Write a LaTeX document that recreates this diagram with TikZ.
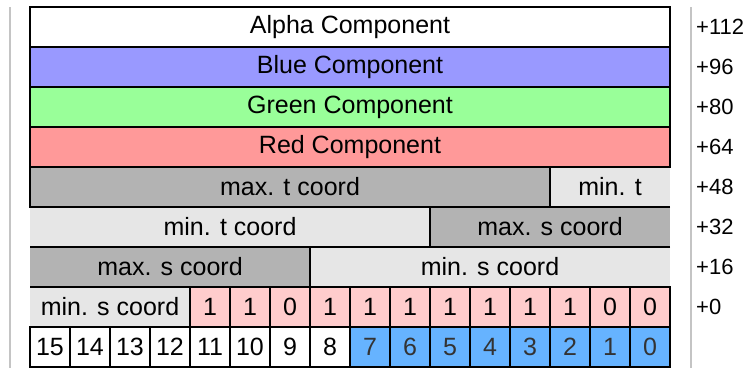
\documentclass[tikz,border=0pt]{standalone}
\usepackage{fontspec}
\setmainfont{Liberation Sans}
\definecolor{blueComp}{HTML}{9999FF}
\definecolor{greenComp}{HTML}{99FF99}
\definecolor{redComp}{HTML}{FF9999}
\definecolor{darkField}{HTML}{B3B3B3}
\definecolor{lightField}{HTML}{E6E6E6}
\definecolor{setBit}{HTML}{FFCCCC}
\definecolor{lowByte}{HTML}{66B3FF}
\definecolor{lowByteText}{HTML}{333333}
\definecolor{ruleGray}{HTML}{C4C4C4}
\begin{document}
\begin{tikzpicture}[x=1pt,y=-1pt,
  field/.style={inner sep=0pt, outer sep=0pt, minimum height=40pt,
    font=\fontsize{25}{30}\selectfont},
  boxed/.style={field, draw=black, line width=2pt},
  edge/.style={draw=black, line width=2pt},
  bitcell/.style={boxed, minimum width=40pt, fill=setBit},
  numcell/.style={boxed, minimum width=40pt, fill=white},
  lownum/.style={boxed, minimum width=40pt, fill=lowByte, text=lowByteText},
  offset/.style={anchor=west, inner sep=0pt, font=\fontsize{22}{26}\selectfont},
  rulestyle/.style={draw=ruleGray, line width=2pt}]
\useasboundingbox (0,0) rectangle (748,368);

% side rules
\draw[rulestyle] (10,7) -- (10,368);
\draw[rulestyle] (691,7) -- (691,368);

% colour components
\node[boxed, fill=white, minimum width=640pt] (alpha) at (350,27) {Alpha Component};
\node[boxed, fill=blueComp, minimum width=640pt] (blue) at (350,67) {Blue Component};
\node[boxed, fill=greenComp, minimum width=640pt] (green) at (350,107) {Green Component};
\node[boxed, fill=redComp, minimum width=640pt] (red) at (350,147) {Red Component};

% +48 row
\node[field, fill=darkField, minimum width=520pt] (maxt) at (290,187) {max. t coord};
\node[field, fill=lightField, minimum width=120pt] (mintA) at (610,187) {min. t};
% +32 row
\node[field, fill=lightField, minimum width=400pt] (mintB) at (230,227) {min. t coord};
\node[field, fill=darkField, minimum width=240pt] (maxsA) at (550,227) {max. s coord};
% +16 row
\node[field, fill=darkField, minimum width=280pt] (maxsB) at (170,267) {max. s coord};
\node[field, fill=lightField, minimum width=360pt] (minsA) at (490,267) {min. s coord};
% +0 row
\node[field, fill=lightField, minimum width=160pt] (minsB) at (110,307) {min. s coord};

% field outlines, open where a field continues on the next row
\draw[edge] (maxt.north east) -- (maxt.north west) -- (maxt.south west) -- (maxt.south east) -- cycle;
\draw[edge] (mintA.north east) -- (mintA.north west) -- (mintA.south west) -- (mintA.south east);
\draw[edge] (mintB.north west) -- (mintB.north east) -- (mintB.south east) -- (mintB.south west);
\draw[edge] (maxsA.north east) -- (maxsA.north west) -- (maxsA.south west) -- (maxsA.south east);
\draw[edge] (maxsB.north west) -- (maxsB.north east) -- (maxsB.south east) -- (maxsB.south west);
\draw[edge] (minsA.north east) -- (minsA.north west) -- (minsA.south west) -- (minsA.south east);
\draw[edge] (minsB.north west) -- (minsB.north east) -- (minsB.south east) -- (minsB.south west);

% fixed bits
\foreach \v [count=\i from 4] in {1,1,0,1,1,1,1,1,1,1,0,0}
  \node[bitcell] (bit\i) at ({50+40*\i},307) {\v};

% bit numbers
\foreach \n [count=\i from 0] in {15,14,13,12,11,10,9,8}
  \node[numcell] (num\n) at ({50+40*\i},347) {\n};
\foreach \n [count=\i from 8] in {7,6,5,4,3,2,1,0}
  \node[lownum] (num\n) at ({50+40*\i},347) {\n};

% byte offsets
\node[offset] (off112) at (696,27) {+112};
\node[offset] (off96) at (696,67) {+96};
\node[offset] (off80) at (696,107) {+80};
\node[offset] (off64) at (696,147) {+64};
\node[offset] (off48) at (696,187) {+48};
\node[offset] (off32) at (696,227) {+32};
\node[offset] (off16) at (696,267) {+16};
\node[offset] (off0) at (696,307) {+0};
\end{tikzpicture}
\end{document}
